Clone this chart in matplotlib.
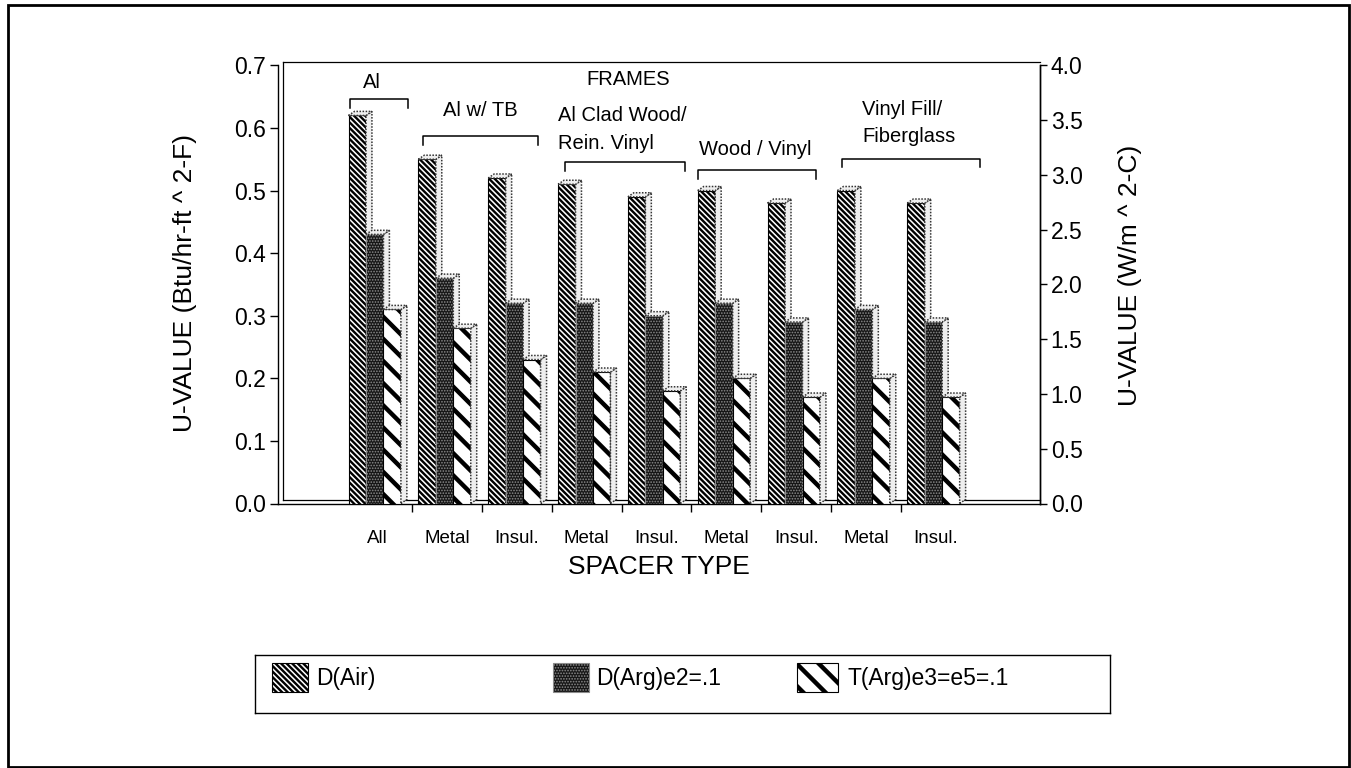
import matplotlib
matplotlib.use("Agg")
import matplotlib as mpl
import matplotlib.pyplot as plt
from matplotlib.patches import Polygon, Rectangle

# ---------------- data ----------------
categories = ["All", "Metal", "Insul.", "Metal", "Insul.", "Metal", "Insul.", "Metal", "Insul."]
d_air = [0.62, 0.55, 0.52, 0.51, 0.49, 0.50, 0.48, 0.50, 0.48]
d_arg = [0.43, 0.36, 0.32, 0.32, 0.30, 0.32, 0.29, 0.31, 0.29]
t_arg = [0.31, 0.28, 0.23, 0.21, 0.18, 0.20, 0.17, 0.20, 0.17]
series_labels = ["D(Air)", "D(Arg)e2=.1", "T(Arg)e3=e5=.1"]
frame_labels = ["Al", "Al w/ TB", "Al Clad Wood/", "Rein. Vinyl", "Wood / Vinyl",
                "Vinyl Fill/", "Fiberglass"]
left_ticks = [0.0, 0.1, 0.2, 0.3, 0.4, 0.5, 0.6, 0.7]
right_ticks = [0.0, 0.5, 1.0, 1.5, 2.0, 2.5, 3.0, 3.5, 4.0]

# ---------------- setup ----------------
DPI = 133
S = 100.0 / DPI          # sizes below are given as points at 100 dpi
plt.rcParams["font.family"] = ["Liberation Sans", "DejaVu Sans"]

fig = plt.figure(figsize=(1351 / DPI, 768 / DPI), dpi=DPI)
fig.patch.set_facecolor("white")

ax = fig.add_axes([278 / 1351, 1 - 503.5 / 768, (1040 - 278) / 1351, (503.5 - 65.4) / 768])
ax.set_xlim(-1.42, 9.49)
ax.set_ylim(0, 0.7)

styles = [
    dict(facecolor="white", edgecolor="black", hatch="\\" * 8, hlw=1.7),
    dict(facecolor="#161616", edgecolor="#8c8c8c", hatch="." * 8, hlw=0.8),
    dict(facecolor="white", edgecolor="black", hatch="\\" * 2, hlw=3.2),
]
offsets = [-0.41, -0.16, 0.09]
width = 0.25
dx, dy = 0.085, 0.0065


def make_bar(axis, series, off, st, z):
    with mpl.rc_context({"hatch.linewidth": st["hlw"] * S}):
        bars = axis.bar([i + off for i in range(len(series))], series, width=width,
                        align="edge", facecolor=st["facecolor"], edgecolor=st["edgecolor"],
                        hatch=st["hatch"], linewidth=0.8 * S, zorder=z)
    for b in bars:
        if hasattr(b, "set_hatch_linewidth"):
            b.set_hatch_linewidth(st["hlw"] * S)
    for b in bars:
        x0 = b.get_x()
        x1 = x0 + b.get_width()
        v = b.get_height()
        side = Polygon([(x1, 0), (x1 + dx, dy), (x1 + dx, v + dy), (x1, v)], closed=True,
                       facecolor="#eeeeee", edgecolor="#333333", linewidth=1.1 * S,
                       linestyle=(0, (1, 1)), zorder=z)
        top = Polygon([(x0, v), (x0 + dx, v + dy), (x1 + dx, v + dy), (x1, v)], closed=True,
                      facecolor="#eeeeee", edgecolor="#333333", linewidth=1.1 * S,
                      linestyle=(0, (1, 1)), zorder=z)
        axis.add_patch(side)
        axis.add_patch(top)
    return bars


for k, (ser, off, st) in enumerate(zip([d_air, d_arg, t_arg], offsets, styles)):
    make_bar(ax, ser, off, st, 3 + k)

# 3D wall / floor lines
x_lo = ax.get_xlim()[0]
ax.plot([x_lo + 0.07, x_lo + 0.07], [0.005, 0.705], color="black", lw=0.9 * S,
        clip_on=False, zorder=2)
ax.plot([x_lo + 0.07, ax.get_xlim()[1]], [0.005, 0.005], color="black", lw=0.9 * S,
        clip_on=False, zorder=2)
ax.plot([x_lo + 0.07, ax.get_xlim()[1]], [0.705, 0.705], color="black", lw=0.9 * S,
        clip_on=False, zorder=2)

ax.spines["top"].set_visible(False)
for sp in ["left", "bottom", "right"]:
    ax.spines[sp].set_linewidth(1.0 * S)

ax.set_yticks(left_ticks)
ax.set_yticklabels([f"{t:.1f}" for t in left_ticks])
ax.tick_params(axis="y", direction="out", length=8 * 0.72 * S, width=1.0 * S,
               labelsize=16.5 * S, pad=2)
ax.set_xticks(range(len(categories)))
ax.set_xticklabels(categories)
ax.tick_params(axis="x", which="major", length=0, labelsize=13.5 * S, pad=19 * S)
ax.set_xticks([i + 0.5 for i in range(len(categories) - 1)], minor=True)
ax.tick_params(axis="x", which="minor", direction="out", length=8 * 0.72 * S, width=1.0 * S)
ax.set_xlabel("SPACER TYPE", fontsize=19 * S, labelpad=6 * S)

ax2 = ax.twinx()
ax2.set_ylim(0, 4.0)
ax2.set_yticks(right_ticks)
ax2.set_yticklabels([f"{t:.1f}" for t in right_ticks])
ax2.tick_params(axis="y", direction="out", length=7 * 0.72 * S, width=1.0 * S,
                labelsize=16.5 * S, pad=2)
for sp in ["top", "left", "bottom"]:
    ax2.spines[sp].set_visible(False)
ax2.spines["right"].set_linewidth(1.0 * S)

fig.text(185 / 1351, 1 - 283 / 768, "U-VALUE (Btu/hr-ft ^ 2-F)", rotation=90,
         ha="center", va="center", fontsize=19 * S)
fig.text(1130 / 1351, 1 - 275 / 768, "U-VALUE (W/m ^ 2-C)", rotation=90,
         ha="center", va="center", fontsize=19 * S)

# frame annotations
fs_ann = 14.5 * S
ax.text(-0.07, 0.673, frame_labels[0], ha="center", va="center", fontsize=fs_ann)
ax.text(3.6, 0.678, "FRAMES", ha="center", va="center", fontsize=fs_ann)
ax.text(1.47, 0.628, frame_labels[1], ha="center", va="center", fontsize=fs_ann)
ax.text(2.59, 0.620, frame_labels[2], ha="left", va="center", fontsize=fs_ann)
ax.text(2.59, 0.575, frame_labels[3], ha="left", va="center", fontsize=fs_ann)
ax.text(5.42, 0.565, frame_labels[4], ha="center", va="center", fontsize=fs_ann)
ax.text(6.94, 0.629, frame_labels[5], ha="left", va="center", fontsize=fs_ann)
ax.text(6.94, 0.586, frame_labels[6], ha="left", va="center", fontsize=fs_ann)

brackets = [(-0.39, 0.44, 0.646), (0.66, 2.30, 0.587), (2.69, 4.41, 0.545),
            (4.59, 6.28, 0.533), (6.65, 8.63, 0.551)]
for xa, xb, yb in brackets:
    ax.plot([xa, xa, xb, xb], [yb - 0.014, yb, yb, yb - 0.014], color="black",
            lw=1.1 * S, zorder=6, clip_on=False)

# legend
lax = fig.add_axes([255 / 1351, 1 - 713 / 768, (1110 - 255) / 1351, (713 - 655) / 768])
lax.set_xlim(0, 1)
lax.set_ylim(0, 1)
lax.set_xticks([])
lax.set_yticks([])
for sp in lax.spines.values():
    sp.set_linewidth(1.0 * S)
patch_x = [(272 - 255) / 855, (553 - 255) / 855, (797 - 255) / 855]
patch_w = [36 / 855, 36 / 855, 41 / 855]
text_x = [(316 - 255) / 855, (596 - 255) / 855, (848 - 255) / 855]
for px, pw, tx, lab, st in zip(patch_x, patch_w, text_x, series_labels, styles):
    with mpl.rc_context({"hatch.linewidth": st["hlw"] * S}):
        r = Rectangle((px, 0.36), pw, 0.5, facecolor=st["facecolor"],
                      edgecolor=st["edgecolor"], hatch=st["hatch"], linewidth=0.8 * S)
    if hasattr(r, "set_hatch_linewidth"):
        r.set_hatch_linewidth(st["hlw"] * S)
    lax.add_patch(r)
    lax.text(tx, 0.6, lab, ha="left", va="center", fontsize=16.5 * S)

# outer border
fig.patches.append(Rectangle((8 / 1351, 1 / 768), 1341 / 1351, 762 / 768,
                             transform=fig.transFigure, fill=False,
                             edgecolor="black", linewidth=2.0 * S))

fig.savefig("out.png", dpi=DPI, facecolor="white")
